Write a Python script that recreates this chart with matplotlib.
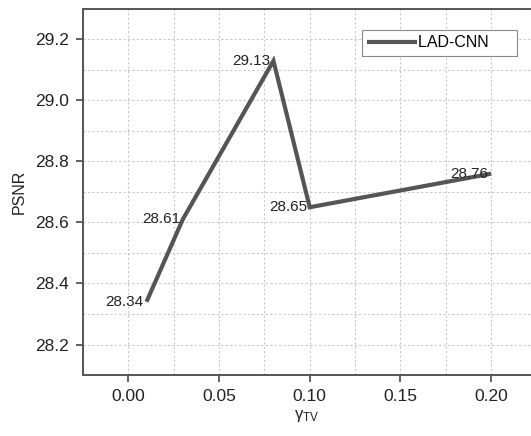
import matplotlib
matplotlib.use("Agg")
import matplotlib.pyplot as plt
from matplotlib.ticker import MultipleLocator

# values
gamma_tv = [0.01, 0.03, 0.08, 0.10, 0.20]
psnr = [28.34, 28.61, 29.13, 28.65, 28.76]
psnr_labels = ["28.34", "28.61", "29.13", "28.65", "28.76"]

plt.rcParams['font.family'] = ['Liberation Sans', 'DejaVu Sans']
plt.rcParams['mathtext.fontset'] = 'custom'
plt.rcParams['mathtext.rm'] = 'Liberation Sans'
plt.rcParams['mathtext.it'] = 'Liberation Sans:italic'

fig = plt.figure(figsize=(5.31, 4.36), dpi=100)
ax = fig.add_axes([0.1563, 0.1399, 0.8437, 0.8395])

ax.plot(gamma_tv, psnr, color='#555555', linewidth=3, label='LAD-CNN     ',
        solid_joinstyle='miter', solid_capstyle='butt')

# value labels sit just left of each point
for x, y, s in zip(gamma_tv, psnr, psnr_labels):
    ax.annotate(s, (x, y), xytext=(-2, 0), textcoords='offset points',
                ha='right', va='center', fontsize=11, color='#222222')

ax.set_xlim(-0.025, 0.222)
ax.set_ylim(28.1, 29.3)
ax.xaxis.set_major_locator(MultipleLocator(0.05))
ax.xaxis.set_minor_locator(MultipleLocator(0.025))
ax.yaxis.set_major_locator(MultipleLocator(0.2))
ax.yaxis.set_minor_locator(MultipleLocator(0.1))
ax.xaxis.set_major_formatter(plt.FormatStrFormatter('%.2f'))
ax.yaxis.set_major_formatter(plt.FormatStrFormatter('%.1f'))

ax.grid(which='both', color='#c8c8c8', linestyle=(0, (2, 2)), linewidth=0.8)
ax.set_axisbelow(True)
ax.tick_params(which='major', direction='out', length=5, width=1.3,
               color='#555555', labelsize=12.5, labelcolor='#222222', pad=5)
ax.tick_params(which='minor', length=0)

for side in ['left', 'bottom', 'top']:
    ax.spines[side].set_color('#555555')
    ax.spines[side].set_linewidth(1.4)
ax.spines['right'].set_visible(False)

ax.set_xlabel(r'$\mathrm{\gamma_{TV}}$', fontsize=12, color='#222222', labelpad=3)
ax.set_ylabel('PSNR', fontsize=11.5, color='#222222', labelpad=6)

leg = ax.legend(loc='upper right', bbox_to_anchor=(0.969, 0.943), fontsize=11.5,
                fancybox=False, framealpha=1, edgecolor='#888888',
                handlelength=3.1, handletextpad=0.1, borderpad=0.35,
                borderaxespad=0)
leg.get_frame().set_linewidth(0.8)

fig.savefig('out.png', dpi=100)
